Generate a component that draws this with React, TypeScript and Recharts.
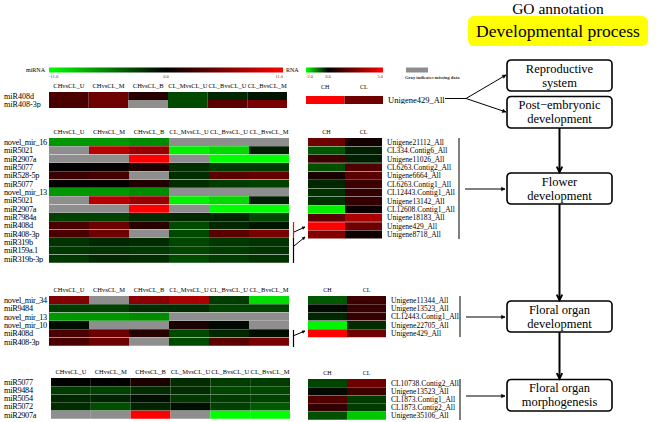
import React from 'react';
import { BarChart, Bar, XAxis, YAxis, Cell } from 'recharts';

const MIRNA_COLS = ['CHvsCL_U', 'CHvsCL_M', 'CHvsCL_B', 'CL_MvsCL_U', 'CL_BvsCL_U', 'CL_BvsCL_M'];
const RNA_COLS = ['CH', 'CL'];
const MIRNA_SCALE = [-11, 0, 11];
const RNA_SCALE = [-2, 0, 5];
const MIRNA_TICKS = ['-11.0', '0.0', '11.0'];
const RNA_TICKS = ['-2.0', '0.0', '5.0'];
const GRAY = '#8e8e8e';

// Block 1: Reproductive system / Post-embryonic development
const B1_MIRNA = ['miR408d', 'miR408-3p'];
const B1_MIRNA_VAL: (number | null)[][] = [
  [3.2, 4.7, 1.7, -3.2, -1.7, -0.9],
  [3.2, 4.7, null, -3.2, 3.9, 5.2],
];
const B1_RNA = ['Unigene429_All'];
const B1_RNA_VAL: (number | null)[][] = [[5.0, 2.16]];

// Block 2: Flower development
const B2_MIRNA = ['novel_mir_16', 'miR5021', 'miR2907a', 'miR5077', 'miR528-5p', 'miR5077', 'novel_mir_13',
  'miR5021', 'miR2907a', 'miR7984a', 'miR408d', 'miR408-3p', 'miR319b', 'miR159a.1', 'miR319b-3p'];
const B2_MIRNA_VAL: (number | null)[][] = [
  [-6.5, -6.5, -6.0, null, null, null],
  [null, 7.8, 6.5, -10.4, -9.3, -1.3],
  [null, null, 11, null, -11, -11],
  [0, 0.2, 1.3, -1.9, -2.6, -2.6],
  [2.6, 3.0, null, -1.9, 3.9, 4.3],
  [0.1, 0.2, 1.5, -1.9, -2.6, -2.8],
  [-6.5, -6.5, -6.0, null, null, null],
  [null, 7.8, 6.5, -10.4, -9.3, -1.3],
  [null, null, 11, null, -11, -11],
  [-2.8, -2.8, -1.9, -1.7, -1.5, -3.2],
  [3.2, 4.7, 1.7, -3.2, -1.7, -0.9],
  [3.2, 4.7, null, -3.2, 3.9, 5.2],
  [-2.2, -1.7, -1.9, -3.0, -2.4, -2.2],
  [-2.4, -2.2, -2.4, -3.0, -2.6, -2.2],
  [-2.4, -1.7, -1.9, -3.2, -2.6, -2.2],
];
const B2_RNA = ['Unigene21112_All', 'CL334.Contig6_All', 'Unigene11026_All', 'CL6263.Contig2_All', 'Unigene6664_All',
  'CL6263.Contig1_All', 'CL12443.Contig1_All', 'Unigene13142_All', 'CL12608.Contig1_All', 'Unigene18183_All',
  'Unigene429_All', 'Unigene8718_All'];
const B2_RNA_VAL: (number | null)[][] = [
  [2.16, 0.4], [-0.7, -0.24], [1.18, -0.24], [-0.63, 1.57], [0.5, 1.76], [-0.31, 1.18],
  [-0.39, 0.98], [-0.39, 0.98], [-1.88, 0.2], [1.76, 3.33], [5.0, 2.16], [2.55, 0.3],
];

// Block 3: Floral organ development
const B3_MIRNA = ['novel_mir_34', 'miR9484', 'novel_mir_13', 'novel_mir_10', 'miR408d', 'miR408-3p'];
const B3_MIRNA_VAL: (number | null)[][] = [
  [5.6, null, 6.0, 7.3, -2.6, -9.5],
  [-2.6, -2.8, -1.9, -1.9, -3.0, -3.0],
  [-6.5, -6.5, -6.0, null, null, null],
  [-0.6, null, null, 1.1, -0.4, null],
  [3.2, 4.7, 1.7, -3.2, -1.7, -0.6],
  [3.2, 4.7, null, -3.2, 3.9, 5.2],
];
const B3_RNA = ['Unigene11344_All', 'Unigene13523_All', 'CL12443.Contig1_All', 'Unigene22705_All', 'Unigene429_All'];
const B3_RNA_VAL: (number | null)[][] = [[-0.7, 1.18], [-0.08, 1.08], [-0.31, 1.08], [-1.92, -0.35], [5.0, 2.16]];

// Block 4: Floral organ morphogenesis
const B4_MIRNA = ['miR5077', 'miR9484', 'miR5054', 'miR5072', 'miR2907a'];
const B4_MIRNA_VAL: (number | null)[][] = [
  [0, 0.1, 1.3, -1.9, -2.6, -2.6],
  [-2.6, -2.8, -1.9, -1.9, -3.0, -3.0],
  [-1.7, -1.5, -0.6, -2.4, -2.6, -2.8],
  [-1.9, -3.4, -1.5, -0.6, -2.8, -3.9],
  [null, null, 11, null, -11, -11],
];
const B4_RNA = ['CL10738.Contig2_All', 'Unigene13523_All', 'CL1873.Contig1_All', 'CL1873.Contig2_All', 'Unigene35106_All'];
const B4_RNA_VAL: (number | null)[][] = [[-0.55, 2.16], [-0.08, 1.18], [1.57, -0.47], [0.98, -0.47], [-0.63, -1.57]];

const FONT = 'Liberation Serif, Times New Roman, serif';
const T = (size: number, extra: any = {}) => ({ fontSize: size, fontFamily: FONT, ...extra });

function colorFor(v: number | null, scale: number[]) {
  if (v === null || v === undefined) return GRAY;
  const [lo, , hi] = scale;
  if (v < 0) {
    const t = Math.min(1, v / lo);
    return `rgb(0,${Math.round(255 * t)},0)`;
  }
  const t = Math.min(1, v / hi);
  return `rgb(${Math.round(255 * t)},0,0)`;
}

type HeatProps = {
  rows: string[];
  cols: string[];
  values: (number | null)[][];
  scale: number[];
  plotLeft: number;
  plotTop: number;
  plotW: number;
  plotH: number;
  side: 'left' | 'right';
  labelW: number;
  labelSize: number;
  labelSpacing: number;
  headSize: number;
  headGap: number;
};

function Heatmap(p: HeatProps) {
  const headH = 14;
  const data = p.rows.map((r, i) => {
    const o: any = { idx: i };
    p.cols.forEach((_, j) => (o['c' + j] = 1));
    return o;
  });
  const width = p.plotW + p.labelW;
  const height = p.plotH + headH;
  const left = p.side === 'left' ? p.plotLeft - p.labelW : p.plotLeft;
  const labelX = p.side === 'left' ? 4 - left : p.plotW + 5;
  return (
    <div style={{ position: 'absolute', left, top: p.plotTop - headH }}>
      <BarChart
        width={width}
        height={height}
        data={data}
        layout="vertical"
        margin={{ top: 0, right: 0, bottom: 0, left: 0 }}
        barCategoryGap={0}
        barGap={0}
      >
        <XAxis
          type="number"
          orientation="top"
          domain={[0, p.cols.length]}
          ticks={p.cols.map((_, j) => j + 0.5)}
          height={headH}
          axisLine={false}
          tickLine={false}
          interval={0}
          tick={(tp: any) => (
            <text key={tp.index} x={tp.x} y={headH - p.headGap} textAnchor="middle" style={T(p.headSize)} fill="#000">
              {p.cols[Math.floor(tp.payload.value)]}
            </text>
          )}
        />
        <YAxis
          type="category"
          dataKey="idx"
          orientation={p.side}
          width={p.labelW}
          axisLine={false}
          tickLine={false}
          interval={0}
          tick={(tp: any) => (
            <text
              key={tp.index}
              x={labelX}
              y={tp.y}
              dy={p.labelSize * 0.33}
              textAnchor="start"
              style={T(p.labelSize, { letterSpacing: p.labelSpacing })}
              fill="#000"
            >
              {p.rows[tp.payload.value]}
            </text>
          )}
        />
        {p.cols.map((c, j) => (
          <Bar key={c} dataKey={'c' + j} stackId="s" isAnimationActive={false}>
            {p.rows.map((r, i) => (
              <Cell key={i} fill={colorFor(p.values[i][j], p.scale)} />
            ))}
          </Bar>
        ))}
      </BarChart>
    </div>
  );
}

function Arrow({ x1, y1, x2, y2, w = 1, head = 4, color = '#000', open = false }: any) {
  const ang = Math.atan2(y2 - y1, x2 - x1);
  const a1 = ang + Math.PI * 0.85;
  const a2 = ang - Math.PI * 0.85;
  const p1 = [x2 + head * Math.cos(a1), y2 + head * Math.sin(a1)];
  const p2 = [x2 + head * Math.cos(a2), y2 + head * Math.sin(a2)];
  return (
    <g>
      <line x1={x1} y1={y1} x2={x2} y2={y2} stroke={color} strokeWidth={w} />
      {open ? (
        <polyline points={`${p1[0]},${p1[1]} ${x2},${y2} ${p2[0]},${p2[1]}`} fill="none" stroke={color} strokeWidth={w} />
      ) : (
        <polygon points={`${p1[0]},${p1[1]} ${x2},${y2} ${p2[0]},${p2[1]}`} fill={color} stroke={color} strokeWidth={0.5} />
      )}
    </g>
  );
}

function Box({ y, h, lines }: { y: number; h: number; lines: string[] }) {
  const cx = 559.5;
  return (
    <g>
      <rect x={507} y={y} width={105} height={h} rx={4} fill="#fff" stroke="#000" strokeWidth={1.6} />
      <text x={cx} y={y + 12.5} textAnchor="middle" style={T(12.5)}>{lines[0]}</text>
      <text x={cx} y={y + 26.5} textAnchor="middle" style={T(12.5)}>{lines[1]}</text>
    </g>
  );
}

function Overlay() {
  return (
    <svg width={660} height={422} style={{ position: 'absolute', left: 0, top: 0 }}>
      <defs>
        <linearGradient id="gMi" x1="0" x2="1" y1="0" y2="0">
          <stop offset="0" stopColor="#00ff00" />
          <stop offset="0.5" stopColor="#000" />
          <stop offset="1" stopColor="#ff0000" />
        </linearGradient>
        <linearGradient id="gRna" x1="0" x2="1" y1="0" y2="0">
          <stop offset="0" stopColor="#00ff00" />
          <stop offset={String(2 / 7)} stopColor="#000" />
          <stop offset="1" stopColor="#ff0000" />
        </linearGradient>
      </defs>
      {/* legend */}
      <text x={45} y={72} textAnchor="end" style={T(6)}>miRNA</text>
      <rect x={49} y={67.5} width={234} height={5} fill="url(#gMi)" />
      <text x={49} y={78} style={T(4.5)} fill="#444">{MIRNA_TICKS[0]}</text>
      <text x={166} y={78} textAnchor="middle" style={T(4.5)} fill="#444">{MIRNA_TICKS[1]}</text>
      <text x={283} y={78} textAnchor="end" style={T(4.5)} fill="#444">{MIRNA_TICKS[2]}</text>
      <text x={286} y={72} style={T(6)}>RNA</text>
      <rect x={306} y={67.5} width={77} height={5} fill="url(#gRna)" />
      <text x={306} y={78} style={T(4.5)} fill="#444">{RNA_TICKS[0]}</text>
      <text x={328} y={78} textAnchor="middle" style={T(4.5)} fill="#444">{RNA_TICKS[1]}</text>
      <text x={383} y={78} textAnchor="end" style={T(4.5)} fill="#444">{RNA_TICKS[2]}</text>
      <rect x={406} y={67.5} width={22} height={5} fill={GRAY} />
      <text x={405} y={78.5} style={T(4.6, { fontWeight: 'bold' })} fill="#333">Gray indicates missing data</text>

      {/* title */}
      <text x={558} y={14} textAnchor="middle" style={T(15.5)}>GO annotation</text>
      <rect x={468} y={16} width={180} height={30} rx={6} fill="#ffff00" />
      <text x={558} y={37} textAnchor="middle" style={T(17.5)}>Developmental process</text>

      {/* boxes */}
      <Box y={60} h={31} lines={['Reproductive', 'system']} />
      <Box y={96.5} h={31.5} lines={['Post\u2212embryonic', 'development']} />
      <Box y={173} h={31} lines={['Flower', 'development']} />
      <Box y={301} h={31} lines={['Floral organ', 'development']} />
      <Box y={379.5} h={31.5} lines={['Floral organ', 'morphogenesis']} />

      {/* vertical flow arrows */}
      <Arrow x1={559.5} y1={128} x2={559.5} y2={172} w={2} head={6} open />
      <Arrow x1={559.5} y1={204} x2={559.5} y2={300} w={2} head={6} open />
      <Arrow x1={559.5} y1={332} x2={559.5} y2={378.5} w={2} head={6} open />

      {/* block 1 fork */}
      <line x1={445} y1={98.5} x2={466} y2={98.5} stroke="#000" strokeWidth={1} />
      <Arrow x1={466} y1={98.5} x2={506} y2={75} w={1} head={4} />
      <Arrow x1={466} y1={98.5} x2={506} y2={112} w={1} head={4} />

      {/* block 2 */}
      <line x1={459} y1={138} x2={459} y2={239} stroke="#555" strokeWidth={1.5} />
      <Arrow x1={465} y1={189} x2={505} y2={189} w={1} head={4} />
      <line x1={293.5} y1={222} x2={293.5} y2={238} stroke="#ff0000" strokeWidth={1.2} />
      <line x1={293.5} y1={238} x2={293.5} y2={263} stroke="#000" strokeWidth={1.2} />
      <Arrow x1={294} y1={232} x2={305} y2={227} w={1} head={3} />
      <Arrow x1={294} y1={246} x2={305} y2={237} w={1} head={3} />

      {/* block 3 */}
      <line x1={460} y1={296} x2={460} y2={337} stroke="#555" strokeWidth={1.5} />
      <Arrow x1={466} y1={317} x2={505} y2={317} w={1} head={4} />
      <line x1={293.5} y1={330} x2={293.5} y2={347} stroke="#000" strokeWidth={1.2} />
      <Arrow x1={294} y1={335.5} x2={305} y2={331} w={1} head={3} />

      {/* block 4 */}
      <line x1={460} y1={379} x2={460} y2={420} stroke="#555" strokeWidth={1.5} />
      <Arrow x1={466} y1={396} x2={505} y2={396} w={1} head={4} />
    </svg>
  );
}

export default function App() {
  const mi = { cols: MIRNA_COLS, scale: MIRNA_SCALE, side: 'left' as const, labelSize: 8.3, labelSpacing: -0.3, headSize: 6.5, headGap: 4 };
  const rn = { cols: RNA_COLS, scale: RNA_SCALE, side: 'right' as const, labelSize: 7.5, labelSpacing: 0, headSize: 6, headGap: 4, labelW: 80 };
  return (
    <div style={{ position: 'absolute', left: 0, top: 0, width: 660, height: 422, background: '#fff', overflow: 'hidden' }}>
      <Overlay />
      <Heatmap {...mi} rows={B1_MIRNA} values={B1_MIRNA_VAL} plotLeft={49} plotTop={92} plotW={238} plotH={16} labelW={49} labelSpacing={0} labelSize={8.1} />
      <Heatmap {...rn} rows={B1_RNA} values={B1_RNA_VAL} plotLeft={306} plotTop={96} plotW={77} plotH={7.5} headGap={7} labelSize={8.5} />
      <Heatmap {...mi} rows={B2_MIRNA} values={B2_MIRNA_VAL} plotLeft={49} plotTop={138} plotW={240} plotH={125} labelW={49} />
      <Heatmap {...rn} rows={B2_RNA} values={B2_RNA_VAL} plotLeft={308} plotTop={138} plotW={74} plotH={101} />
      <Heatmap {...mi} rows={B3_MIRNA} values={B3_MIRNA_VAL} plotLeft={49} plotTop={296} plotW={240} plotH={50} labelW={49} />
      <Heatmap {...rn} rows={B3_RNA} values={B3_RNA_VAL} plotLeft={308} plotTop={296} plotW={78} plotH={41.5} />
      <Heatmap {...mi} rows={B4_MIRNA} values={B4_MIRNA_VAL} plotLeft={51} plotTop={378} plotW={239} plotH={41} labelW={51} />
      <Heatmap {...rn} rows={B4_RNA} values={B4_RNA_VAL} plotLeft={308} plotTop={379} plotW={78} plotH={41} />
    </div>
  );
}
